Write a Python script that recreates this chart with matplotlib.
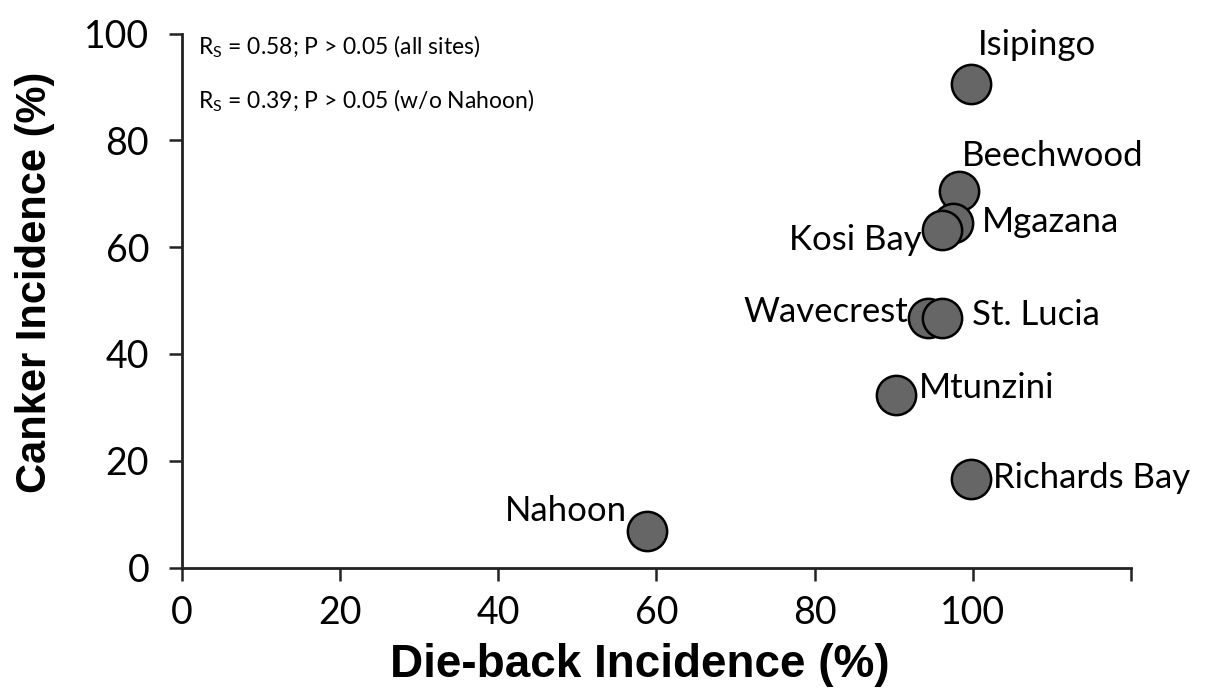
import matplotlib
matplotlib.use("Agg")
import matplotlib.pyplot as plt

sites = ["Isipingo", "Beechwood", "Mgazana", "Kosi Bay", "Wavecrest",
         "St. Lucia", "Mtunzini", "Richards Bay", "Nahoon"]
dieback = [99.8, 98.3, 97.5, 96.1, 94.4, 96.1, 90.3, 99.8, 58.8]
canker = [90.6, 70.5, 64.5, 63.3, 46.8, 46.8, 32.4, 16.6, 6.8]
xticks = [0, 20, 40, 60, 80, 100]
yticks = [0, 20, 40, 60, 80, 100]
stats_lines = [r"R$_{\mathregular{S}}$ = 0.58; P > 0.05 (all sites)",
               r"R$_{\mathregular{S}}$ = 0.39; P > 0.05 (w/o Nahoon)"]

# label offsets in pixels (dx, dy, ha)
offsets = {
    "Isipingo": (7, 39, "left"),
    "Beechwood": (3, 35, "left"),
    "Mgazana": (29, 1, "left"),
    "Kosi Bay": (-20, -10, "right"),
    "Wavecrest": (-20, 6, "right"),
    "St. Lucia": (30, 3, "left"),
    "Mtunzini": (23, 7, "left"),
    "Richards Bay": (22, 1, "left"),
    "Nahoon": (-20, 20, "right"),
}

plt.rcParams['font.family'] = ['Lato', 'DejaVu Sans']
plt.rcParams['mathtext.fontset'] = 'custom'
plt.rcParams['mathtext.rm'] = 'Lato'

fig = plt.figure(figsize=(12.2, 6.99), dpi=100)
ax = fig.add_axes([0.149, 0.188, 0.778, 0.764])

ax.scatter(dieback, canker, s=800, facecolor="#666666", edgecolor="black",
           linewidth=1.8, zorder=3, clip_on=False)

for name, x, y in zip(sites, dieback, canker):
    dx, dy, ha = offsets[name]
    ax.annotate(name, (x, y), xytext=(dx, dy), textcoords="offset pixels",
                ha=ha, va="center", fontsize=25, color="black")

ax.set_xlim(0, 120)
ax.set_ylim(0, 100)
ax.set_xticks(xticks + [120])
ax.set_xticklabels([str(t) for t in xticks] + [""])
ax.set_yticks(yticks)
ax.tick_params(axis="both", labelsize=27, direction="out", length=9.5, width=1.8,
               color="#222222")
ax.tick_params(axis="x", pad=10)
ax.tick_params(axis="y", pad=14)
for s in ["top", "right"]:
    ax.spines[s].set_visible(False)
for s in ["left", "bottom"]:
    ax.spines[s].set_linewidth(2)
    ax.spines[s].set_color("#222222")

ax.set_xlabel("Die-back Incidence (%)", fontsize=33, fontweight="bold",
              family="Liberation Sans", va="top")
ax.xaxis.set_label_coords(0.483, -0.142)
ax.set_ylabel("Canker Incidence (%)", fontsize=30, fontweight="bold",
              family="Liberation Sans", va="bottom")
ax.yaxis.set_label_coords(-0.134, 0.534)

for i, line in enumerate(stats_lines):
    ax.text(0.017, 0.975 - i * 0.101, line, transform=ax.transAxes,
            fontsize=16.5, ha="left", va="center")

fig.savefig("out.png", dpi=100)
